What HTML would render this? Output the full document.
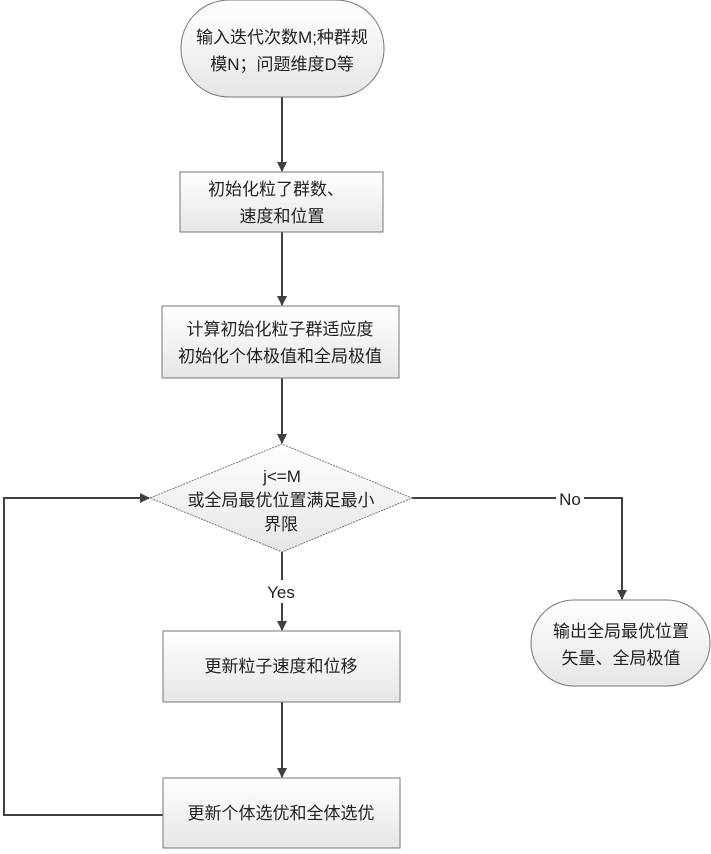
<!DOCTYPE html>
<html><head><meta charset="utf-8"><style>body{margin:0;background:#fff}svg{display:block}text{font-family:"Liberation Sans","Noto Sans CJK SC",sans-serif;font-size:17px;fill:#222}</style></head>
<body>
<svg width="711" height="854" viewBox="0 0 711 854">
<defs>
<linearGradient id="g" x1="0" y1="0" x2="0" y2="1"><stop offset="0" stop-color="#ffffff"/><stop offset="1" stop-color="#e6e6e6"/></linearGradient>
<marker id="a" markerWidth="10" markerHeight="10" refX="9" refY="5" orient="auto" markerUnits="userSpaceOnUse"><path d="M0,0 L10,5 L0,10 z" fill="#404040"/></marker>
</defs>
<g stroke="#404040" stroke-width="2" fill="none">
<line x1="282" y1="97" x2="282" y2="171" marker-end="url(#a)"/>
<line x1="282" y1="232" x2="282" y2="305" marker-end="url(#a)"/>
<line x1="282" y1="378" x2="282" y2="443" marker-end="url(#a)"/>
<line x1="282" y1="552" x2="282" y2="580"/>
<line x1="282" y1="603" x2="282" y2="630" marker-end="url(#a)"/>
<line x1="282" y1="702" x2="282" y2="777" marker-end="url(#a)"/>
<polyline points="163,815 4,815 4,498 149,498" marker-end="url(#a)"/>
<polyline points="412,498 556,498"/>
<polyline points="584,498 622,498 622,599" marker-end="url(#a)"/>
</g>
<g fill="url(#g)" stroke="#777" stroke-width="1">
<rect x="181" y="0" width="203" height="97" rx="48" ry="48"/>
<rect x="180" y="172" width="203" height="60"/>
<rect x="162" y="306" width="237" height="72"/>
<polygon points="150,498 282,444 412,498 282,552" stroke-dasharray="2,1"/>
<rect x="163" y="631" width="237" height="71"/>
<rect x="163" y="778" width="237" height="70"/>
<rect x="531" y="600" width="179" height="86" rx="43" ry="43"/>
</g>
<g text-anchor="middle">
<text x="282" y="43">输入迭代次数M;种群规</text>
<text x="282" y="70">模N；问题维度D等</text>
<text x="276" y="195">初始化粒了群数、</text>
<text x="282" y="222">速度和位置</text>
<text x="280" y="335">计算初始化粒子群适应度</text>
<text x="280" y="362">初始化个体极值和全局极值</text>
<text x="282" y="482">j&lt;=M</text>
<text x="281" y="506">或全局最优位置满足最小</text>
<text x="281" y="530">界限</text>
<text x="570" y="505">No</text>
<text x="281" y="598">Yes</text>
<text x="281" y="672">更新粒子速度和位移</text>
<text x="281" y="819">更新个体选优和全体选优</text>
<text x="621" y="637">输出全局最优位置</text>
<text x="621" y="664">矢量、全局极值</text>
</g>
</svg>
</body></html>
